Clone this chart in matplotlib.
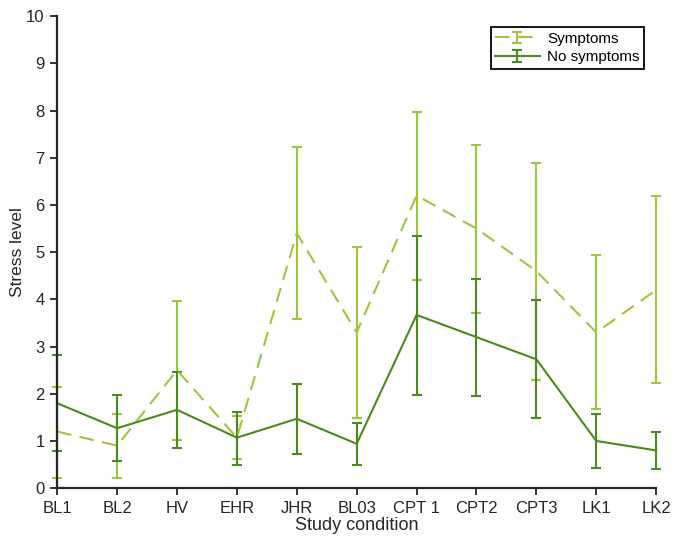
import numpy as np
import matplotlib.pyplot as plt
from matplotlib.legend_handler import HandlerErrorbar
from matplotlib.container import ErrorbarContainer

plt.rcParams['font.family'] = ['Liberation Sans', 'DejaVu Sans']

conditions = ["BL1", "BL2", "HV", "EHR", "JHR", "BL03", "CPT 1", "CPT2", "CPT3", "LK1", "LK2"]

# symptoms group: mean, upper and lower ends of the error bars
sym_mean = [1.2, 0.9, 2.5, 1.07, 5.4, 3.3, 6.2, 5.5, 4.6, 3.3, 4.2]
sym_hi = [2.15, 1.57, 3.96, 1.52, 7.22, 5.12, 7.97, 7.28, 6.9, 4.93, 6.18]
sym_lo = [0.22, 0.22, 1.02, 0.62, 3.58, 1.48, 4.42, 3.72, 2.3, 1.67, 2.22]

# no symptoms group
nos_mean = [1.8, 1.27, 1.66, 1.07, 1.47, 0.94, 3.67, 3.2, 2.73, 1.0, 0.8]
nos_hi = [2.82, 1.97, 2.46, 1.62, 2.2, 1.38, 5.35, 4.44, 3.98, 1.57, 1.19]
nos_lo = [0.78, 0.57, 0.86, 0.5, 0.73, 0.49, 1.98, 1.96, 1.49, 0.43, 0.4]

light = "#9cc63f"
dark = "#4b8a1f"

x = np.arange(1, len(conditions) + 1)

fig = plt.figure(figsize=(6.73, 5.4), dpi=100)
ax = fig.add_axes([0.085, 0.096, 0.89, 0.874])

sm = np.array(sym_mean)
eb1 = ax.errorbar(x, sm, yerr=[sm - np.array(sym_lo), np.array(sym_hi) - sm],
                  color=light, lw=1.5, dashes=(7, 4), capsize=3.5, capthick=1.5,
                  elinewidth=1.5, label="Symptoms")
nm = np.array(nos_mean)
eb2 = ax.errorbar(x, nm, yerr=[nm - np.array(nos_lo), np.array(nos_hi) - nm],
                  color=dark, lw=1.5, capsize=3.5, capthick=1.5,
                  elinewidth=1.5, label="No symptoms")
for eb in (eb1, eb2):
    for art in eb.get_children():
        art.set_clip_on(False)

ax.set_xlim(1, 11)
ax.set_ylim(0, 10)
ax.set_xticks(x)
ax.set_xticklabels(conditions)
ax.set_yticks(range(0, 11))
ax.tick_params(labelsize=12, colors="#262626", width=1.3, length=5, direction="out", pad=4)
for s in ["top", "right"]:
    ax.spines[s].set_visible(False)
for s in ["left", "bottom"]:
    ax.spines[s].set_linewidth(1.6)
    ax.spines[s].set_color("#262626")

ax.set_xlabel("Study condition", fontsize=13, color="#262626")
ax.set_ylabel("Stress level", fontsize=12.5, color="#262626")
ax.xaxis.set_label_coords(0.5, -0.062)
ax.yaxis.set_label_coords(-0.053, 0.5)

leg = ax.legend(loc="upper right", bbox_to_anchor=(0.993, 0.993), fontsize=11,
                fancybox=False, framealpha=1, edgecolor="black",
                handlelength=2.9, handletextpad=0.5, borderpad=0.3, labelspacing=0.3,
                handler_map={ErrorbarContainer: HandlerErrorbar(yerr_size=0.38)})
leg.get_frame().set_linewidth(1.3)

fig.savefig("out.png", dpi=100)
